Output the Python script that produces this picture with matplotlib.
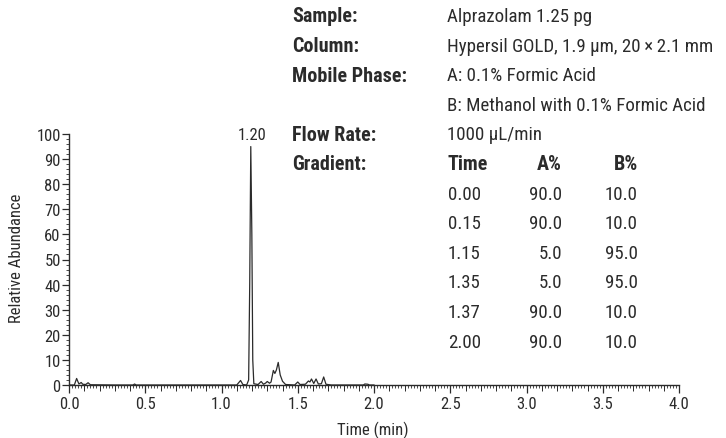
import numpy as np
import matplotlib
matplotlib.use("Agg")
import matplotlib.pyplot as plt
from matplotlib import font_manager
from matplotlib.ticker import MultipleLocator

# chromatogram trace (time in min, relative abundance)
time_min = [0.00, 0.035, 0.05, 0.065, 0.08, 0.09, 0.11, 0.125, 0.14, 0.30,
            0.42, 0.43, 0.44, 1.10, 1.125, 1.14, 1.165, 1.178, 1.185, 1.192,
            1.199, 1.205, 1.212, 1.24, 1.26, 1.275, 1.29, 1.30, 1.315, 1.325,
            1.34, 1.35, 1.36, 1.372, 1.385, 1.40, 1.42, 1.48, 1.50, 1.515,
            1.55, 1.57, 1.58, 1.59, 1.605, 1.62, 1.635, 1.655, 1.67, 1.685,
            1.72, 1.93, 1.94, 1.96, 1.97, 2.00]
abundance = [0.0, 0.0, 2.6, 0.4, 1.0, 0.3, 0.2, 0.9, 0.1, 0.0,
             0.0, 0.4, 0.0, 0.0, 1.8, 0.2, 0.0, 2.0, 40.0, 95.0,
             60.0, 10.0, 0.5, 0.2, 1.4, 0.3, 0.8, 1.4, 0.7, 1.2,
             5.8, 4.6, 6.0, 9.0, 4.0, 1.5, 0.2, 0.0, 1.2, 0.2,
             0.3, 1.6, 1.2, 2.4, 0.6, 2.4, 0.4, 0.5, 3.2, 0.3,
             0.0, 0.0, 0.4, 0.3, 0.0, 0.0]
peak_label = (1.20, "1.20")

# method details
info_labels = ["Sample:", "Column:", "Mobile Phase:", "", "Flow Rate:", "Gradient:"]
info_values = ["Alprazolam 1.25 pg", "Hypersil GOLD, 1.9 \u00b5m, 20\u2009\u00d7\u20092.1 mm",
               "A: 0.1% Formic Acid", "B: Methanol with 0.1% Formic Acid",
               "1000 \u00b5L/min", ""]
grad_header = ["Time", "A%", "B%"]
grad_time = ["0.00", "0.15", "1.15", "1.35", "1.37", "2.00"]
grad_a = ["90.0", "90.0", "5.0", "5.0", "90.0", "90.0"]
grad_b = ["10.0", "10.0", "95.0", "95.0", "10.0", "10.0"]

# pick a narrow face if there is one
have = {f.name for f in font_manager.fontManager.ttflist}
fam = [f for f in ["Roboto Condensed", "Liberation Sans Narrow", "Open Sans Condensed"] if f in have]
plt.rcParams["font.family"] = fam + ["DejaVu Sans"]
ink = "#2b2b2b"
fs_txt, fs_bold, fs_tick = 13.6, 14.5, 12

W, H = 726, 439
fig = plt.figure(figsize=(W / 100, H / 100), dpi=100)
ax = fig.add_axes([69 / W, 1 - 386 / H, (679 - 69) / W, (386 - 135) / H])

ax.plot(time_min, abundance, color=ink, lw=0.9)
ax.text(peak_label[0], 97, peak_label[1], ha="center", va="bottom",
        fontsize=fs_tick, color=ink)

ax.set_xlim(0, 4.0)
ax.set_ylim(0, 100)
for s in ["top", "right"]:
    ax.spines[s].set_visible(False)
for s in ["left", "bottom"]:
    ax.spines[s].set_color(ink)
    ax.spines[s].set_linewidth(1.0)

ax.xaxis.set_major_locator(MultipleLocator(0.5))
ax.xaxis.set_minor_locator(MultipleLocator(0.02))
ax.yaxis.set_major_locator(MultipleLocator(10))
ax.yaxis.set_minor_locator(MultipleLocator(2))
ax.xaxis.set_major_formatter(lambda v, p: f"{v:.1f}")
ax.tick_params(which="major", length=6, width=0.9, color=ink, labelcolor=ink,
               labelsize=fs_tick, pad=2)
ax.tick_params(which="minor", length=2.5, width=0.6, color=ink)
ax.tick_params(axis="y", which="major", length=5, pad=1)

# medium ticks every 0.1 min
sec = ax.secondary_xaxis("bottom")
sec.set_xticks(np.arange(0, 4.01, 0.1))
sec.tick_params(length=4, width=0.7, color=ink, labelbottom=False)
sec.spines["bottom"].set_visible(False)

fig.text(17 / W, 1 - 258 / H, "Relative Abundance", fontsize=fs_tick, color=ink,
         rotation=90, ha="center", va="center")
fig.text(373 / W, 1 - 430 / H, "Time (min)", fontsize=fs_tick, color=ink,
         ha="center", va="center")

# method text block
row0, step = 17, 29.6
for i, (lab, val) in enumerate(zip(info_labels, info_values)):
    y = 1 - (row0 + i * step) / H
    fig.text(292 / W, y, lab, fontsize=fs_bold, fontweight="bold", color=ink, va="center")
    fig.text(447 / W, y, val, fontsize=fs_txt, color=ink, va="center")

yg = 1 - (row0 + 5 * step) / H
fig.text(448 / W, yg, grad_header[0], fontsize=fs_bold, fontweight="bold", color=ink, va="center")
fig.text(562 / W, yg, grad_header[1], fontsize=fs_bold, fontweight="bold", color=ink, va="center", ha="right")
fig.text(638 / W, yg, grad_header[2], fontsize=fs_bold, fontweight="bold", color=ink, va="center", ha="right")
for k in range(len(grad_time)):
    y = 1 - (row0 + (6 + k) * step) / H
    fig.text(448 / W, y, grad_time[k], fontsize=fs_txt, color=ink, va="center")
    fig.text(562 / W, y, grad_a[k], fontsize=fs_txt, color=ink, va="center", ha="right")
    fig.text(638 / W, y, grad_b[k], fontsize=fs_txt, color=ink, va="center", ha="right")

fig.savefig("out.png", dpi=100)
